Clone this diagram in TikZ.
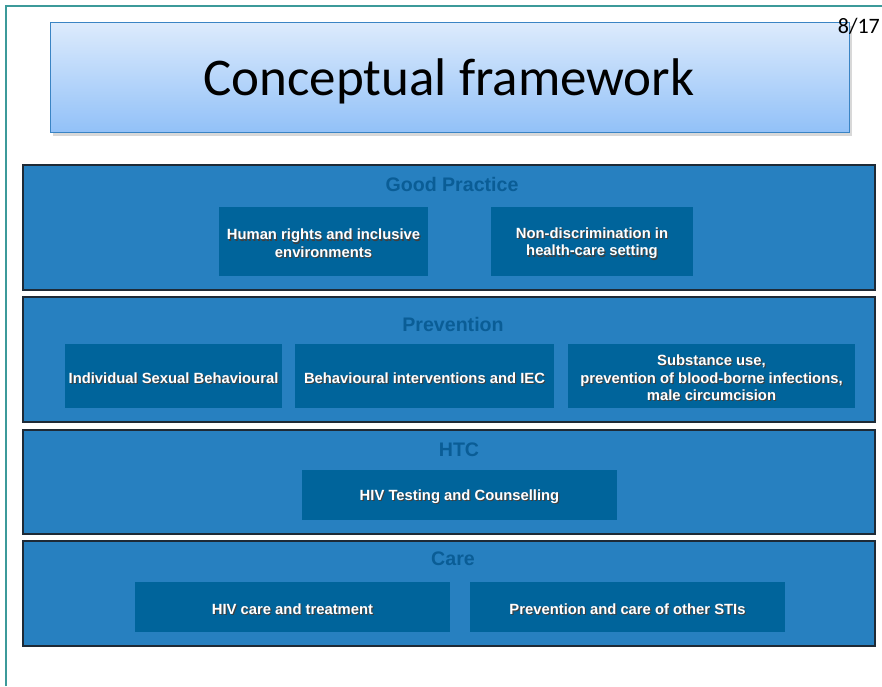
\documentclass[tikz,border=0pt]{standalone}
\usepackage{fontspec}
\setmainfont{Liberation Sans}
\newfontfamily\calib{Carlito}
\definecolor{bandfill}{HTML}{2780C0}
\definecolor{boxfill}{HTML}{00649B}
\definecolor{bandtitle}{HTML}{0A5D96}
\definecolor{bandline}{HTML}{1E2A36}
\definecolor{teal}{HTML}{3C9A9A}
\definecolor{titletop}{HTML}{DDEBFC}
\definecolor{titlebot}{HTML}{92C1F8}
\definecolor{titleline}{HTML}{3A84C4}
\newcommand\shtxt[1]{\leavevmode\raisebox{-2.5pt}[\height][\depth]{\rlap{\hspace{1.2pt}\raisebox{-1.2pt}{\color{black!75}#1}}#1}}
\tikzset{
  band/.style={draw=bandline, line width=1.3pt, fill=bandfill, inner sep=0pt},
  innerbox/.style={fill=boxfill, inner sep=0pt, text=white, align=center,
    font=\bfseries\fontsize{14.8}{17.5}\selectfont},
  bandhead/.style={text=bandtitle, font=\bfseries\fontsize{19.6}{22}\selectfont, inner sep=0pt},
}
\begin{document}
\begin{tikzpicture}[x=1pt,y=-1pt]
\useasboundingbox (0,0) rectangle (882,686);
\fill[white] (0,0) rectangle (882,686);
% page border
\coordinate (pb1) at (6,686);
\coordinate (pb2) at (6,6);
\coordinate (pb3) at (882,6);
\draw[teal, line width=2pt] (pb1) -- (pb2) -- (pb3);
% title box shadow
\fill[black!25, opacity=0.6] (53,26) rectangle (852,136);
\node[draw=titleline, line width=1pt, top color=titletop, bottom color=titlebot,
      minimum width=799pt, minimum height=110pt, inner sep=0pt] (title) at (449.5,77) {};
\node[anchor=base, font=\calib\fontsize{53}{60}\selectfont, inner sep=0pt] (titletext) at (449,95) {Conceptual framework};
\node[anchor=base east, font=\calib\fontsize{22}{26}\selectfont, inner sep=0pt] (pagenum) at (880,33) {8/17};
% bands
\node[band, minimum width=852pt, minimum height=125pt] (b1) at (449,227.5) {};
\node[band, minimum width=852pt, minimum height=125pt] (b2) at (449,359.5) {};
\node[band, minimum width=852pt, minimum height=104pt] (b3) at (449,482) {};
\node[band, minimum width=852pt, minimum height=105pt] (b4) at (449,593.5) {};
% band titles
\node[bandhead] (h1) at (452,184.5) {Good Practice};
\node[bandhead] (h2) at (453,324.5) {Prevention};
\node[bandhead] (h3) at (459,449.5) {HTC};
\node[bandhead] (h4) at (453,558.5) {Care};
% inner boxes
\node[innerbox, minimum width=209pt, minimum height=69pt] (gp1) at (323.5,241.5)
  {\shtxt{Human rights and inclusive}\\\shtxt{environments}};
\node[innerbox, minimum width=202pt, minimum height=69pt] (gp2) at (592,241.5)
  {\shtxt{Non-discrimination in}\\\shtxt{health-care setting}};
\node[innerbox, minimum width=217pt, minimum height=64pt] (p1) at (173.5,376)
  {\shtxt{Individual Sexual Behavioural}};
\node[innerbox, minimum width=259pt, minimum height=64pt] (p2) at (424.5,376)
  {\shtxt{Behavioural interventions and IEC}};
\node[innerbox, minimum width=287pt, minimum height=64pt] (p3) at (711.5,376)
  {\shtxt{Substance use,}\\\shtxt{prevention of blood-borne infections,}\\\shtxt{male circumcision}};
\node[innerbox, minimum width=315pt, minimum height=50pt] (t1) at (459.5,495)
  {\shtxt{HIV Testing and Counselling}};
\node[innerbox, minimum width=315pt, minimum height=50pt] (c1) at (292.5,607)
  {\shtxt{HIV care and treatment}};
\node[innerbox, minimum width=315pt, minimum height=50pt] (c2) at (627.5,607)
  {\shtxt{Prevention and care of other STIs}};
\end{tikzpicture}
\end{document}
